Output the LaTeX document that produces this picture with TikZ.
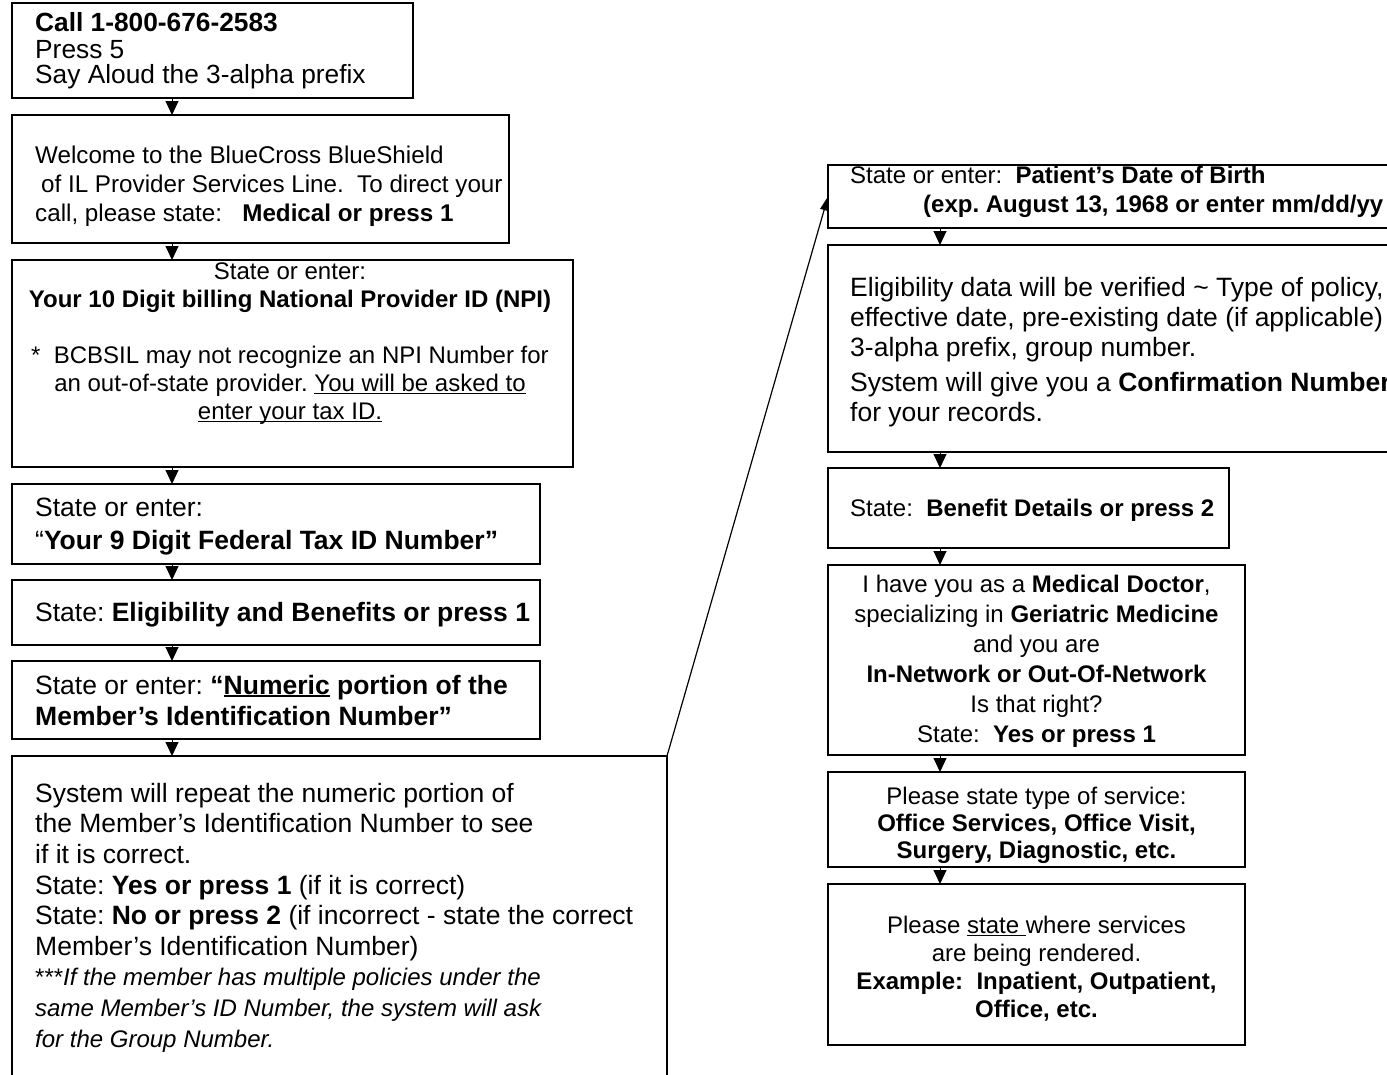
\documentclass[tikz,border=0pt]{standalone}
\usepackage{fontspec}
\setmainfont{Liberation Sans}
\usetikzlibrary{arrows.meta}
\newcommand\ulx[2][1.3pt]{\leavevmode\setbox0\hbox{#2}\rlap{\rule[-3pt]{\wd0}{#1}}\box0\relax}
\frenchspacing
\begin{document}
\frenchspacing
\begin{tikzpicture}[x=1pt,y=-1pt,
  box/.style={draw, line width=1.5pt, anchor=north west, inner sep=0pt, outer sep=0pt},
  txt/.style={anchor=north west, inner sep=0pt, align=left},
  ctxt/.style={anchor=north, inner sep=0pt, align=center},
  flow/.style={line width=1pt, -{Triangle[width=13pt,length=14pt]}},
  jump/.style={line width=1.2pt, -{Triangle[width=8pt,length=14pt]}}]
\fill[white] (0,0) rectangle (1387,1074);
\useasboundingbox (0,0) rectangle (1387,1074);
% left column boxes
\node[box, minimum width=401pt, minimum height=95pt] (b1) at (12,3) {};
\node[box, minimum width=497pt, minimum height=128pt] (b2) at (12,115) {};
\node[box, minimum width=561pt, minimum height=207pt] (b3) at (12,260) {};
\node[box, minimum width=528pt, minimum height=80pt] (b4) at (12,484) {};
\node[box, minimum width=528pt, minimum height=65pt] (b5) at (12,580) {};
\node[box, minimum width=528pt, minimum height=78pt] (b6) at (12,661) {};
\node[box, minimum width=655pt, minimum height=340pt] (b7) at (12,756) {};
% right column boxes
\node[box, minimum width=600pt, minimum height=63pt] (b8) at (828,165) {};
\node[box, minimum width=600pt, minimum height=207pt] (b9) at (828,245) {};
\node[box, minimum width=401pt, minimum height=80pt] (b10) at (828,468) {};
\node[box, minimum width=417pt, minimum height=190pt] (b11) at (828,565) {};
\node[box, minimum width=417pt, minimum height=95pt] (b12) at (828,772) {};
\node[box, minimum width=417pt, minimum height=161pt] (b13) at (828,884) {};
% texts
\node[txt, font=\fontsize{26.3}{25.5}\selectfont] (t1) at (35,12.15)
  {\strut\textbf{Call 1-800-676-2583}\\Press 5\\Say Aloud the 3-alpha prefix};
\node[txt, font=\fontsize{24.2}{29}\selectfont] (t2) at (35,142.7)
  {\strut Welcome to the BlueCross BlueShield\\\hspace*{6pt}of IL Provider Services Line.\ \ To direct your\\call, please state:\ \ \ \textbf{Medical or press 1}};
\node[ctxt, font=\fontsize{24}{28}\selectfont] (t3) at (290,259.4)
  {\strut State or enter:\\\textbf{Your 10 Digit billing National Provider ID (NPI)}\\[28pt]*\ \ BCBSIL may not recognize an NPI Number for\\an out-of-state provider. \ulx{You will be asked to}\\\ulx{enter your tax ID.}};
\node[txt, font=\fontsize{26.5}{33}\selectfont] (t4) at (35,492.9)
  {\strut State or enter:\\“\textbf{Your 9 Digit Federal Tax ID Number”}};
\node[txt, font=\fontsize{26.5}{30}\selectfont] (t5) at (35,600)
  {\strut State: \textbf{Eligibility and Benefits or press 1}};
\node[txt, font=\fontsize{26.5}{31}\selectfont] (t6) at (35,672.3)
  {\strut State or enter: \textbf{“\ulx[2pt]{Numeric} portion of the}\\\textbf{Member’s Identification Number”}};
\node[txt, font=\fontsize{26.5}{30.6}\selectfont] (t7) at (35,780.6)
  {\strut System will repeat the numeric portion of\\the Member’s Identification Number to see\\if it is correct.\\State: \textbf{Yes or press 1} (if it is correct)\\State: \textbf{No or press 2} (if incorrect - state the correct\\Member’s Identification Number)};
\node[txt, font=\fontsize{24}{31}\selectfont] (t7b) at (35,963.3)
  {\strut ***\textit{If the member has multiple policies under the}\\\textit{same Member’s ID Number, the system will ask}\\\textit{for the Group Number.}};
\node[txt, font=\fontsize{24}{29}\selectfont] (t8) at (850,162.7)
  {\strut State or enter:\ \ \textbf{Patient’s Date of Birth}\\\hspace*{73pt}\textbf{(exp. August 13, 1968 or enter mm/dd/yy}};
\node[txt, font=\fontsize{26.5}{30}\selectfont] (t9) at (850,275)
  {\strut Eligibility data will be verified \textasciitilde\ Type of policy,\\effective date, pre-existing date (if applicable)\\3-alpha prefix, group number.\\[5pt]System will give you a \textbf{Confirmation Number}\\for your records.};
\node[txt, font=\fontsize{24}{29}\selectfont] (t10) at (850,495.7)
  {\strut State:\ \ \textbf{Benefit Details or press 2}};
\node[ctxt, font=\fontsize{24}{30}\selectfont] (t11) at (1036.5,571)
  {\strut I have you as a \textbf{Medical Doctor},\\specializing in \textbf{Geriatric Medicine}\\and you are\\\textbf{In-Network or Out-Of-Network}\\Is that right?\\State:\ \ \textbf{Yes or press 1}};
\node[ctxt, font=\fontsize{24}{27}\selectfont] (t12) at (1036.5,785.1)
  {\strut Please state type of service:\\\textbf{Office Services, Office Visit,}\\\textbf{Surgery, Diagnostic, etc.}};
\node[ctxt, font=\fontsize{24}{28}\selectfont] (t13) at (1036.5,913.4)
  {\strut Please \ulx{state\ }where services\\are being rendered.\\\textbf{Example:\ \ Inpatient, Outpatient,}\\\textbf{Office, etc.}};
% connectors
\draw[flow] ([xshift=160pt]b1.south west) -- ([xshift=160pt]b2.north west);
\draw[flow] ([xshift=160pt]b2.south west) -- ([xshift=160pt]b3.north west);
\draw[flow] ([xshift=160pt]b3.south west) -- ([xshift=160pt]b4.north west);
\draw[flow] ([xshift=160pt]b4.south west) -- ([xshift=160pt]b5.north west);
\draw[flow] ([xshift=160pt]b5.south west) -- ([xshift=160pt]b6.north west);
\draw[flow] ([xshift=160pt]b6.south west) -- ([xshift=160pt]b7.north west);
\draw[jump] (b7.north east) -- (b8.west);
\draw[flow] ([xshift=112pt]b8.south west) -- ([xshift=112pt]b9.north west);
\draw[flow] ([xshift=112pt]b9.south west) -- ([xshift=112pt]b10.north west);
\draw[flow] ([xshift=112pt]b10.south west) -- ([xshift=112pt]b11.north west);
\draw[flow] ([xshift=112pt]b11.south west) -- ([xshift=112pt]b12.north west);
\draw[flow] ([xshift=112pt]b12.south west) -- ([xshift=112pt]b13.north west);
\end{tikzpicture}
\end{document}
